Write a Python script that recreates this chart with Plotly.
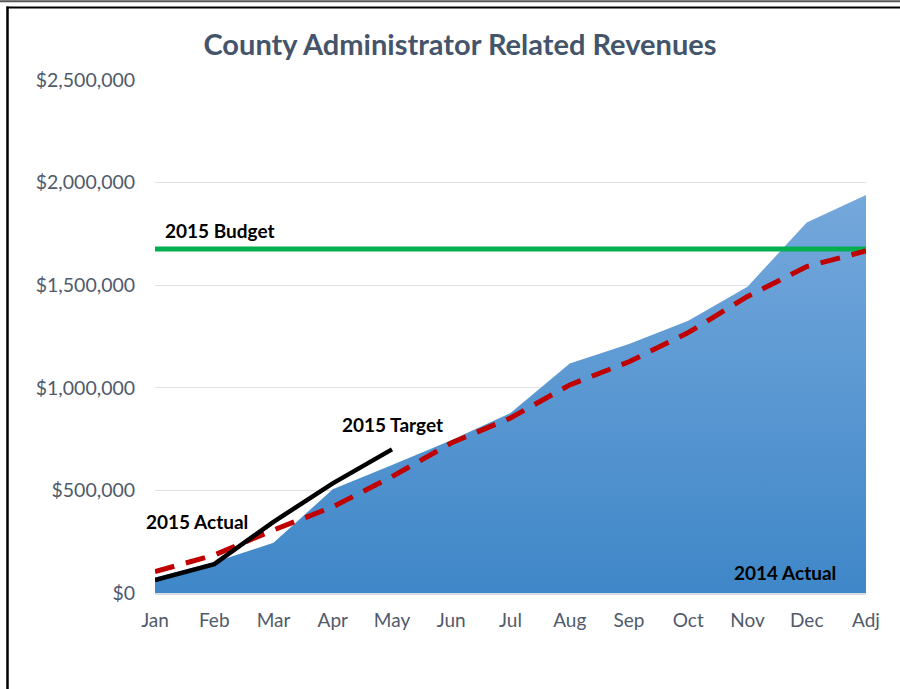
import plotly.graph_objects as go

months = ["Jan", "Feb", "Mar", "Apr", "May", "Jun", "Jul", "Aug", "Sep", "Oct", "Nov", "Dec", "Adj"]
actual_2014 = [75000, 150000, 245000, 505000, 624000, 745000, 877000, 1119000, 1213000, 1327000, 1493000, 1805000, 1940000]
target_2015 = [104000, 185000, 307000, 420000, 567000, 731000, 853000, 1014000, 1127000, 1269000, 1445000, 1591000, 1667000]
actual_2015 = [63000, 141000, 347000, 534000, 700000]
budget_2015 = 1676000
y_ticks = [0, 500000, 1000000, 1500000, 2000000, 2500000]
y_ticktext = ["$0", "$500,000", "$1,000,000", "$1,500,000", "$2,000,000", "$2,500,000"]

xi = list(range(len(months)))
W, H = 900, 689
L, R, T, B = 155, 866, 80, 593


def px(x):
    return (x - L) / (R - L)


def py(y):
    return (B - y) / (B - T)


fig = go.Figure()
fig.add_trace(go.Scatter(
    x=xi, y=actual_2014, mode="lines", line=dict(width=0, color="#5a97d4"),
    fill="tozeroy",
    fillgradient=dict(type="vertical", colorscale=[[0, "#3f87c8"], [1, "#75a8dc"]]),
    hoverinfo="skip", showlegend=False))
fig.add_trace(go.Scatter(
    x=[xi[0], xi[-1]], y=[budget_2015, budget_2015], mode="lines",
    line=dict(color="#00b050", width=5), showlegend=False))
fig.add_trace(go.Scatter(
    x=xi, y=target_2015, mode="lines",
    line=dict(color="#c00000", width=5, dash="20px,12px"), showlegend=False))
fig.add_trace(go.Scatter(
    x=xi[:len(actual_2015)], y=actual_2015, mode="lines",
    line=dict(color="#000000", width=4.5), showlegend=False))

ann_font = dict(family="Lato", size=19, color="#000000")
annotations = [
    dict(x=px(220), y=py(230), text="<b>2015 Budget</b>"),
    dict(x=px(392), y=py(424), text="<b>2015 Target</b>"),
    dict(x=px(197), y=py(521), text="<b>2015 Actual</b>"),
    dict(x=px(785), y=py(572), text="<b>2014 Actual</b>"),
]
for a in annotations:
    a.update(xref="paper", yref="paper", showarrow=False, font=ann_font,
             xanchor="center", yanchor="middle")

shapes = [
    # top gray strip
    dict(type="line", xref="paper", yref="paper", x0=px(0), x1=px(900), y0=py(1.2), y1=py(1.2),
         line=dict(color="#555555", width=2)),
    # black frame top
    dict(type="line", xref="paper", yref="paper", x0=px(6.5), x1=px(900), y0=py(7.5), y1=py(7.5),
         line=dict(color="#000000", width=2)),
    # black frame left
    dict(type="line", xref="paper", yref="paper", x0=px(7.5), x1=px(7.5), y0=py(6.5), y1=py(689),
         line=dict(color="#000000", width=2.5)),
]

fig.update_layout(
    width=W, height=H,
    margin=dict(l=L, r=W - R, t=T, b=H - B),
    paper_bgcolor="white", plot_bgcolor="white",
    title=dict(text="<b>County Administrator Related Revenues</b>", xref="container",
               x=460 / W, xanchor="center",
               yref="container", y=1 - 45 / H, yanchor="middle",
               font=dict(family="Lato", size=29, color="#44546a")),
    xaxis=dict(range=[0, 12], tickvals=xi, ticktext=months, showgrid=False, zeroline=False,
               showline=True, linecolor="#d9dde8", linewidth=2,
               ticks="outside", ticklen=9, tickcolor="rgba(0,0,0,0)",
               tickfont=dict(family="Lato", size=19, color="#505a6b")),
    yaxis=dict(range=[0, 2500000], tickvals=y_ticks, ticktext=y_ticktext,
               showgrid=True, gridcolor="#e0e0e6", gridwidth=1, zeroline=False,
               ticks="outside", ticklen=15, tickcolor="rgba(0,0,0,0)",
               tickfont=dict(family="Lato", size=19.5, color="#505a6b")),
    annotations=annotations, shapes=shapes,
)

fig.write_html("out.html", config={"displayModeBar": False},
               post_script="document.body.style.margin='0px';")
